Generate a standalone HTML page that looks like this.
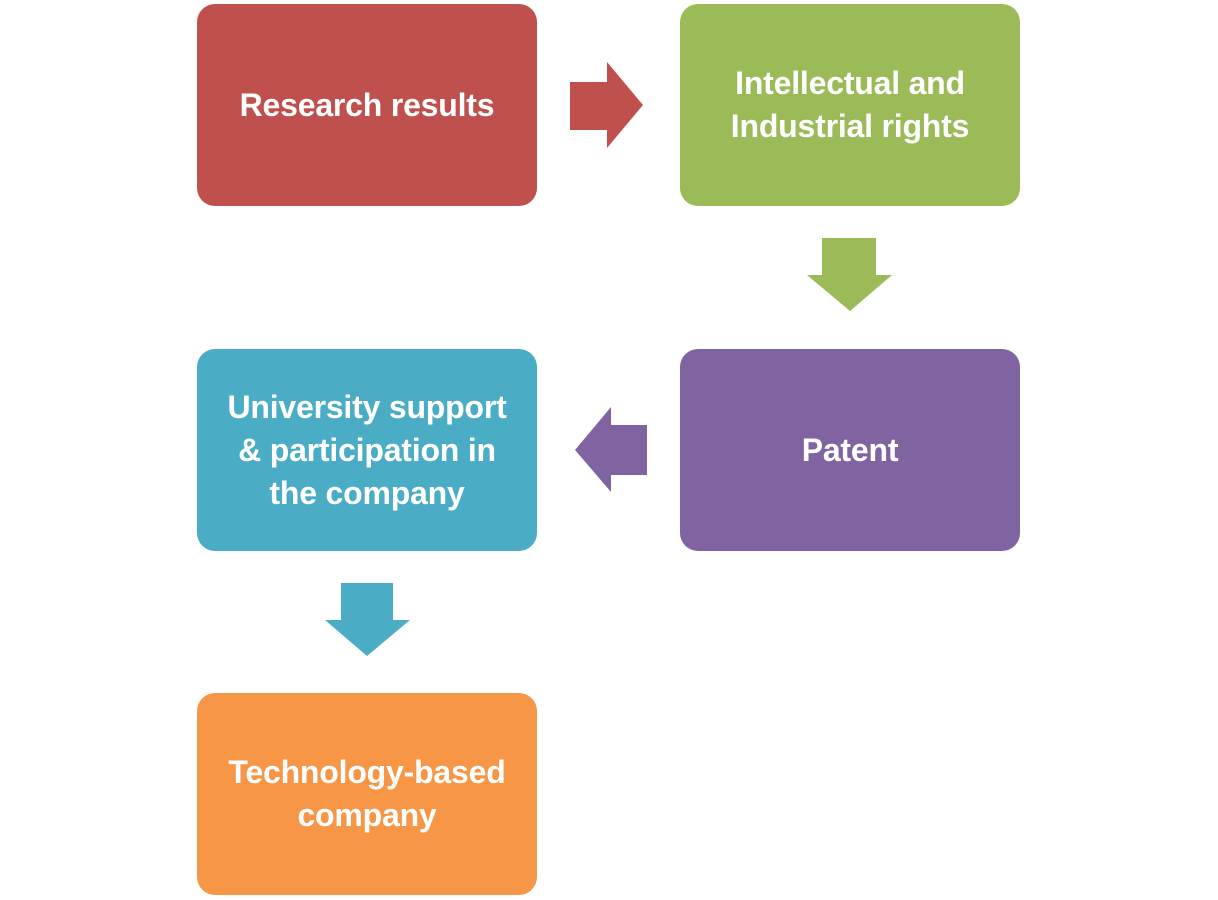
<!DOCTYPE html>
<html><head><meta charset="utf-8"><style>
body{margin:0;width:1218px;height:900px;background:#fff;position:relative;overflow:hidden;font-family:"Liberation Sans",sans-serif}
.b{position:absolute;width:340px;height:202px;border-radius:18px;display:flex;align-items:center;justify-content:center;text-align:center;color:#fff;font-weight:bold;font-size:32px;line-height:43px;letter-spacing:-0.2px}
svg{position:absolute;left:0;top:0}
</style></head><body>
<div class="b" style="left:197px;top:4px;background:#C0504D">Research results</div>
<div class="b" style="left:680px;top:4px;background:#9BBB59">Intellectual and<br>Industrial rights</div>
<div class="b" style="left:680px;top:349px;background:#8064A2">Patent</div>
<div class="b" style="left:197px;top:349px;background:#4BACC6">University support<br>&amp; participation in<br>the company</div>
<div class="b" style="left:197px;top:693px;background:#F79646">Technology-based<br>company</div>
<svg width="1218" height="900">
<polygon points="570,82 607,82 607,62 643,105 607,148 607,130 570,130" fill="#C0504D"/>
<polygon points="822,238 876,238 876,275 892,275 850,311 807,275 822,275" fill="#9BBB59"/>
<polygon points="647,425 611,425 611,407 575,450 611,492 611,475 647,475" fill="#8064A2"/>
<polygon points="341,583 393,583 393,620 410,620 367,656 325,620 341,620" fill="#4BACC6"/>
</svg>
</body></html>
